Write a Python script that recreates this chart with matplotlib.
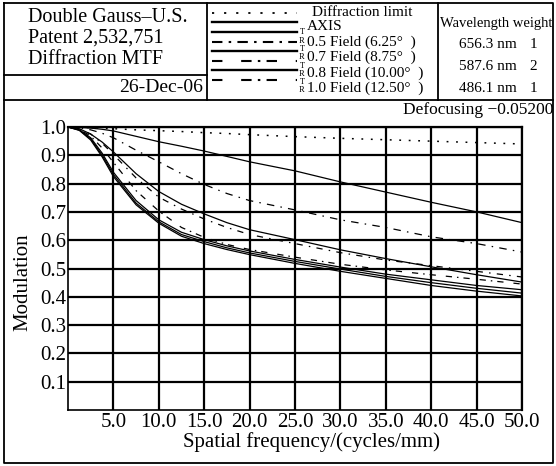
import numpy as np
import matplotlib.pyplot as plt

plt.rcParams['font.family'] = ['Liberation Serif', 'DejaVu Serif']

# MTF data (frequency in cycles/mm)
freq = [0, 1.25, 2.5, 3.75, 5, 7.5, 10, 12.5, 15, 17.5, 20, 25, 30, 35, 40, 45, 50]
diffraction = [1.0, 0.999, 0.998, 0.996, 0.994, 0.99, 0.987, 0.984, 0.98, 0.977, 0.973, 0.966, 0.96, 0.955, 0.95, 0.945, 0.94]
axis_t = [1.0, 0.999, 0.996, 0.992, 0.986, 0.967, 0.948, 0.932, 0.915, 0.896, 0.877, 0.845, 0.806, 0.77, 0.734, 0.70, 0.662]
f05_r = [1.0, 0.997, 0.99, 0.978, 0.962, 0.918, 0.877, 0.835, 0.797, 0.765, 0.74, 0.707, 0.672, 0.645, 0.612, 0.588, 0.558]
f05_t = [1.0, 0.994, 0.975, 0.947, 0.912, 0.835, 0.772, 0.727, 0.693, 0.662, 0.637, 0.602, 0.566, 0.535, 0.506, 0.478, 0.452]
f07_r = [1.0, 0.993, 0.975, 0.943, 0.903, 0.82, 0.752, 0.71, 0.675, 0.645, 0.62, 0.588, 0.556, 0.53, 0.51, 0.49, 0.47]
f08_r = [1.0, 0.992, 0.968, 0.926, 0.875, 0.775, 0.703, 0.645, 0.61, 0.585, 0.567, 0.54, 0.515, 0.495, 0.478, 0.462, 0.445]
f07_t = [1.0, 0.99, 0.962, 0.908, 0.84, 0.74, 0.672, 0.628, 0.602, 0.58, 0.562, 0.532, 0.505, 0.48, 0.46, 0.44, 0.425]
f08_t = [1.0, 0.989, 0.958, 0.901, 0.832, 0.731, 0.665, 0.62, 0.595, 0.573, 0.555, 0.525, 0.498, 0.472, 0.45, 0.43, 0.413]
f10_t = [1.0, 0.988, 0.954, 0.895, 0.825, 0.725, 0.66, 0.614, 0.588, 0.567, 0.549, 0.518, 0.49, 0.465, 0.44, 0.42, 0.403]

xticks = [5, 10, 15, 20, 25, 30, 35, 40, 45, 50]
yticks = [0.1, 0.2, 0.3, 0.4, 0.5, 0.6, 0.7, 0.8, 0.9, 1.0]

legend_labels = ['AXIS', '0.5 Field (6.25°  )', '0.7 Field (8.75°  )',
                 '0.8 Field (10.00°  )', '1.0 Field (12.50°  )']
wavelengths = ['656.3 nm', '587.6 nm', '486.1 nm']
weights = ['1', '2', '1']

W, H = 556, 466
fig = plt.figure(figsize=(W / 100, H / 100), dpi=100)

# overlay in pixel coordinates for the frame / header block
ov = fig.add_axes([0, 0, 1, 1])
ov.set_xlim(0, W)
ov.set_ylim(H, 0)
ov.axis('off')

k = dict(color='black', lw=1.3)
ov.plot([4, 553, 553, 4, 4], [3, 3, 463, 463, 3], **k)
ov.plot([4, 553], [100, 100], **k)
ov.plot([207, 207], [3, 100], **k)
ov.plot([438, 438], [3, 100], **k)
ov.plot([4, 207], [75, 75], **k)

ov.text(28, 17, 'Double Gauss–U.S.', fontsize=14.5, va='center', ha='left')
ov.text(28, 38, 'Patent 2,532,751', fontsize=14.5, va='center', ha='left')
ov.text(28, 59, 'Diffraction MTF', fontsize=14.5, va='center', ha='left')
ov.text(203, 88, '26-Dec-06', fontsize=14, va='center', ha='right')

# legend samples
dashdot = (0, (5, 3, 1.2, 3))
longdd = (0, (5, 9, 5, 3, 1.2, 3))
samples = [((0, (1.2, 5.5)), 13, 1.3), ('-', 22, 1.7), ('-', 32, 1.7), (dashdot, 42, 1.5),
           ('-', 51, 1.7), (longdd, 61, 1.5), ('-', 70, 1.7), (longdd, 80, 1.5)]
for ls, yy, lw in samples:
    ov.plot([212, 297], [yy, yy], color='black', linestyle=ls, lw=lw)

ov.text(312, 12, 'Diffraction limit', fontsize=11, va='center', ha='left')
rows = [26, 42, 57, 73, 88]
for lab, yy in zip(legend_labels, rows):
    ov.text(307, yy, lab, fontsize=11, va='center', ha='left')
for yt, yr in zip([32, 49, 66, 82], [41, 57, 74, 90]):
    ov.text(302, yt, 'T', fontsize=6, va='center', ha='center')
    ov.text(302, yr, 'R', fontsize=6, va='center', ha='center')

ov.text(496, 23, 'Wavelength weight', fontsize=10.5, va='center', ha='center')
for wl, wt, yy in zip(wavelengths, weights, [45, 67, 89]):
    ov.text(459, yy, wl, fontsize=11, va='center', ha='left')
    ov.text(533, yy, wt, fontsize=11, va='center', ha='center')

ov.text(553, 110, 'Defocusing −0.05200', fontsize=12.5, va='center', ha='right')

# main MTF plot
ax = fig.add_axes([68 / W, 1 - 410 / H, 454 / W, 283 / H])
ax.set_xlim(0, 50)
ax.set_ylim(0, 1)
ax.set_xticks(xticks)
ax.set_yticks(yticks)
ax.set_xticklabels([f'{v:.1f}' for v in xticks])
ax.set_yticklabels([f'{v:.1f}' for v in yticks])
ax.tick_params(length=0, pad=2)
ax.tick_params(axis='both', labelsize=15)
ax.tick_params(axis='y', pad=1)
ax.grid(True, color='black', lw=1.6)
for s in ['left', 'bottom']:
    ax.spines[s].set_linewidth(1.2)
for s in ['top', 'right']:
    ax.spines[s].set_linewidth(1.6)

lw = 0.9
ax.plot(freq, diffraction, color='black', lw=1.1, linestyle=(0, (1.2, 5)))
ax.plot(freq, axis_t, color='black', lw=lw)
ax.plot(freq, f05_r, color='black', lw=lw, linestyle=(0, (6, 5, 1.2, 5)))
ax.plot(freq, f05_t, color='black', lw=lw)
ax.plot(freq, f07_r, color='black', lw=lw, linestyle=(0, (5, 5, 1.2, 5)))
ax.plot(freq, f08_r, color='black', lw=lw, linestyle=(0, (5, 8, 5, 4, 1.2, 4)))
ax.plot(freq, f07_t, color='black', lw=lw)
ax.plot(freq, f08_t, color='black', lw=lw)
ax.plot(freq, f10_t, color='black', lw=lw)

ax.set_xlabel('Spatial frequency/(cycles/mm)', fontsize=15)
ax.xaxis.set_label_coords(0.537, -0.113)
ax.xaxis.label.set_va('center')
ax.set_ylabel('Modulation', fontsize=15)
ax.yaxis.set_label_coords(-0.078, 0.45)

fig.savefig('out.png', dpi=100)
